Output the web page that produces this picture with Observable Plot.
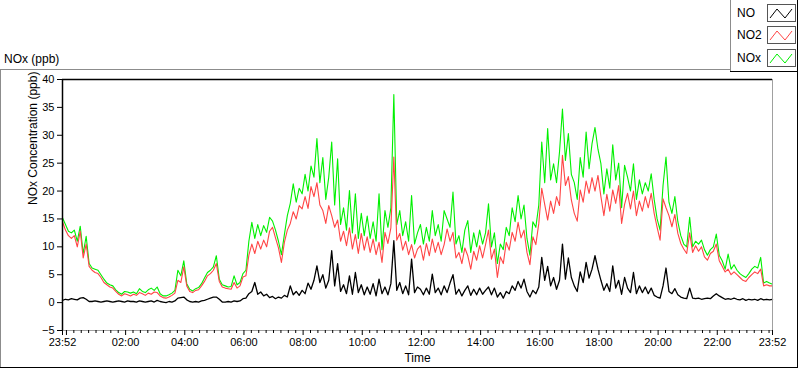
<!DOCTYPE html>
<html><head><meta charset="utf-8">
<script src="https://cdn.jsdelivr.net/npm/d3@7"></script>
<script src="https://cdn.jsdelivr.net/npm/@observablehq/plot@0.6"></script>
<style>
html,body{margin:0;padding:0;background:#fff;}
#wrap{position:relative;width:800px;height:369px;overflow:hidden;font-family:"Liberation Sans",Arial,sans-serif;color:#000;}
#wrap > svg{position:absolute;left:0;top:0;}
.ln{position:absolute;}
.lt{position:absolute;font-size:12px;line-height:14px;}
</style></head><body><div id="wrap"></div>
<script>
// ---- data (6-minute samples from 23:52 to 23:52 next day) ----
const stepMinutes = 6;
const seriesNames = ["NO", "NO2", "NOx"];
const seriesColors = ["#000000", "#ff4545", "#00f000"];
const yTicks = [-5, 0, 5, 10, 15, 20, 25, 30, 35, 40];
const xTickLabels = ["23:52","02:00","04:00","06:00","08:00","10:00","12:00","14:00","16:00","18:00","20:00","22:00","23:52"];

const no = [
0.4,0.6,0.5,0.7,0.6,0.5,0.8,0.9,0.6,0.2,
0.2,0.3,0.2,0.1,0.2,0.3,0.2,0.1,0.2,0.3,
0.2,0.1,0.3,0.2,0.2,0.1,0.3,0.2,0.1,0.2,
0.3,0.1,0.4,0.2,0.1,0.0,0.2,0.1,0.3,0.8,
0.9,1.0,0.5,0.2,0.1,0.2,0.1,0.3,0.4,0.6,
0.8,1.0,1.0,0.6,0.1,0.1,0.2,0.1,0.3,0.2,
0.3,
0.7,0.8,1.6,2.0,3.6,1.5,1.9,1.2,1.5,0.9,
1.1,0.7,1.0,0.8,1.3,1.0,3.0,1.4,2.0,1.3,
2.2,1.6,3.5,2.4,4.0,6.6,3.6,5.0,2.6,4.0,
9.3,3.0,7.0,2.0,3.2,1.6,4.8,1.5,5.4,1.8,
3.2,1.4,2.8,1.5,3.4,1.2,4.2,1.6,2.8,1.4,
3.4,11.1,2.2,3.6,1.6,3.0,1.4,7.8,1.8,2.8,
2.4,1.4,2.6,1.5,5.1,1.8,2.6,1.4,3.0,1.8,
3.5,5.0,1.5,2.4,1.2,2.2,3.0,1.3,2.4,1.4,
2.6,1.5,2.2,2.8,1.4,2.6,1.0,1.8,0.8,2.0,
1.6,3.0,2.2,3.8,2.6,4.2,2.0,1.0,2.2,1.6,
2.8,8.1,4.0,6.5,3.0,4.5,2.4,4.0,10.5,4.2,
8.0,4.5,3.0,2.0,5.5,3.6,7.2,4.4,6.0,8.4,
6.0,
4.0,2.2,3.4,2.0,6.6,2.6,4.0,1.5,4.5,2.6,
1.8,5.4,1.6,3.0,1.8,2.8,1.6,2.6,1.3,1.0,
0.8,3.0,6.2,2.0,1.6,2.5,1.4,1.0,0.8,0.7,
2.6,0.8,0.7,0.8,0.6,0.7,0.8,0.7,1.2,1.6,
1.2,0.9,0.6,0.7,0.6,0.8,0.6,0.5,0.7,0.4,
0.6,0.5,0.6,0.4,0.7,0.5,0.6,0.5,0.6
];

const no2 = [
14.5,13.0,12.0,11.5,12.0,10.0,12.8,8.0,10.5,6.5,
5.8,5.4,5.2,4.5,3.6,3.2,2.8,2.6,2.0,1.5,
1.2,1.6,1.4,1.2,1.5,1.3,1.8,1.6,1.3,1.7,
1.5,1.9,1.8,1.2,0.9,0.8,1.0,1.3,1.7,4.0,
3.6,6.4,3.0,2.0,1.8,2.2,2.3,3.0,3.8,4.8,
5.2,5.8,7.0,3.8,2.8,2.6,2.5,2.4,3.6,2.6,
3.0,
4.6,4.8,8.5,10.5,8.8,11.0,9.6,11.2,10.0,12.8,
13.5,11.6,9.8,7.2,10.8,13.0,14.2,16.3,15.0,17.4,
16.8,19.0,16.9,20.8,19.0,21.5,17.5,16.5,14.2,17.4,
15.6,13.5,14.8,11.0,12.8,10.2,13.4,9.6,12.2,8.8,
12.4,9.4,11.8,9.0,11.4,8.6,10.8,7.2,12.6,10.6,
13.4,26.1,11.2,12.4,9.4,11.0,8.6,10.4,8.0,9.6,
10.2,7.6,10.6,8.4,11.4,9.0,10.8,8.6,10.4,13.2,
11.0,12.6,8.0,9.0,7.0,9.8,8.4,6.0,9.2,7.6,
10.2,8.0,10.4,13.0,7.8,9.6,4.5,8.2,7.0,10.8,
9.4,12.6,11.0,14.4,11.6,13.0,9.0,6.8,11.8,10.4,
14.2,20.5,17.6,14.8,18.2,16.0,19.0,17.4,26.4,21.0,
22.6,18.4,16.0,14.6,20.2,18.0,21.8,19.6,22.4,20.0,
22.8,
19.0,15.6,19.4,16.4,20.2,17.8,21.0,14.2,17.6,19.6,
16.8,20.0,15.6,18.2,16.4,19.0,17.0,19.6,16.0,13.5,
11.2,18.6,17.0,15.6,13.6,15.8,12.4,10.6,9.6,8.8,
12.5,9.0,10.2,9.2,10.0,8.2,7.6,8.8,9.2,10.5,
7.5,6.5,5.5,6.0,5.0,5.5,5.0,4.5,4.0,3.8,
4.5,5.0,5.5,5.2,6.0,3.0,3.2,3.0,3.0
];

const nox = [
15.2,14.0,12.8,12.5,13.0,11.0,13.7,8.8,11.9,7.0,
6.2,6.0,5.8,5.0,4.2,3.5,3.2,3.0,2.3,1.8,
1.5,2.0,1.9,1.7,1.9,1.6,2.5,2.0,1.8,2.3,
2.6,2.2,2.8,1.6,1.2,1.2,1.4,1.7,2.2,5.8,
4.8,7.5,3.4,2.4,2.1,2.5,2.7,3.4,4.4,5.4,
5.8,6.4,8.4,4.2,3.2,3.0,2.8,2.9,4.8,3.2,
3.6,
5.2,5.8,11.0,14.4,11.5,14.0,12.0,13.8,12.6,15.3,
14.6,13.0,11.0,8.6,12.2,15.6,17.8,21.3,18.0,20.5,
19.5,23.0,20.0,24.5,22.5,29.4,21.5,26.0,18.5,22.5,
28.8,17.5,25.8,14.0,17.0,13.0,20.1,12.5,19.5,11.5,
16.0,12.0,15.5,11.5,14.5,11.0,19.5,9.5,16.5,13.5,
17.0,37.3,14.0,16.5,12.0,14.5,11.0,19.2,10.5,12.5,
14.0,10.5,13.5,11.0,16.5,12.0,14.0,11.0,16.5,15.0,
13.5,19.8,10.5,12.0,9.0,13.0,14.7,9.0,12.5,10.0,
13.0,10.5,12.5,17.7,10.0,12.5,7.0,10.5,9.5,13.5,
12.0,17.0,14.5,19.2,15.0,17.5,11.5,8.5,14.5,13.5,
17.5,28.8,21.5,31.2,22.0,24.9,21.5,27.0,34.7,25.5,
30.3,23.0,21.5,18.5,26.0,22.5,30.6,24.0,28.5,31.4,
27.5,
24.9,19.5,24.0,20.5,28.3,22.0,25.0,17.0,24.6,22.5,
20.0,24.9,18.5,22.0,19.5,21.5,20.0,23.1,18.5,15.0,
13.0,21.0,26.1,18.0,16.0,19.0,14.5,12.0,10.5,10.0,
15.3,10.0,11.0,10.5,11.2,9.5,8.5,9.5,10.0,12.3,
8.5,7.5,6.0,8.7,6.0,6.8,5.8,5.2,4.8,4.5,
5.2,6.0,6.5,6.2,8.1,3.5,3.8,3.5,3.3
];

// ---- build table ----
const start = Date.UTC(2020, 0, 1, 23, 52);
const end = start + 24 * 60 * 60000;
const rows = no.map((v, i) => ({
  time: new Date(start + i * stepMinutes * 60000),
  no: v, no2: no2[i], nox: nox[i]
}));

// ticks: majors every 2 h (labelled), minors every 15 min
const fmt = d3.utcFormat("%H:%M");
const majorTicks = [new Date(start)]
  .concat(d3.utcHour.every(2).range(new Date(start), new Date(end)))
  .concat([new Date(end)]);
const labelled = new Set(xTickLabels);
const tickFormat = (d) => {
  const s = fmt(d);
  return (s === "00:00") ? "" : (labelled.has(s) ? s : "");
};
const majorSet = new Set(majorTicks.map(d => +d));
const minorTicks = d3.utcMinute.every(15).range(new Date(start), new Date(end)).filter(d => !majorSet.has(+d));

const chart = Plot.plot({
  width: 800, height: 369,
  marginLeft: 62, marginRight: 28, marginTop: 79, marginBottom: 39,
  style: {fontFamily: "Liberation Sans, Arial, sans-serif", fontSize: "11px", color: "#000", background: "transparent", overflow: "visible"},
  x: {type: "utc", domain: [new Date(start), new Date(end)], label: null},
  y: {domain: [-5, 40], label: null},
  marks: [
    Plot.line(rows, {x: "time", y: "nox", stroke: seriesColors[2], strokeWidth: 1.1}),
    Plot.line(rows, {x: "time", y: "no2", stroke: seriesColors[1], strokeWidth: 1.1}),
    Plot.line(rows, {x: "time", y: "no", stroke: seriesColors[0], strokeWidth: 1.3}),
    Plot.ruleY([40], {stroke: "#000", strokeWidth: 1.5}),
    Plot.ruleX([new Date(start)], {stroke: "#000", strokeWidth: 1.5}),
    Plot.ruleY([-5], {stroke: "#a0a0a0"}),
    Plot.ruleX([new Date(end)], {stroke: "#a0a0a0"}),
    Plot.axisY(yTicks, {tickSize: 5, tickPadding: 3, fontSize: 11, label: null}),
    Plot.axisX(majorTicks, {tickSize: 5, tickPadding: 3, fontSize: 11, tickFormat, label: null}),
    Plot.axisX(minorTicks, {tickSize: 3, tickFormat: () => "", label: null}),
    Plot.text(["NOx Concentration (ppb)"], {frameAnchor: "left", dx: -29, rotate: -90, fontSize: 12}),
    Plot.text(["Time"], {frameAnchor: "bottom", dy: 31, fontSize: 12})
  ]
});

const wrap = document.getElementById("wrap");
wrap.appendChild(chart);

function line(l, t, w, h, c) {
  const d = document.createElement("div");
  d.className = "ln";
  Object.assign(d.style, {left: l + "px", top: t + "px", width: w + "px", height: h + "px", background: c});
  wrap.appendChild(d);
}
// outer graph frame
line(0, 69, 731, 1, "#8c8c8c");
line(0, 69, 1, 299, "#8c8c8c");
line(0, 367, 798, 1, "#000");
line(797, 0, 1, 368, "#000");
// legend box
line(730, 0, 1, 72, "#8c8c8c");
line(730, 71, 68, 1, "#000");

// title
const title = document.createElement("div");
title.className = "lt";
title.style.left = "4px"; title.style.top = "52px";
title.textContent = "NOx (ppb)";
wrap.appendChild(title);

// legend entries
const legendY = [13, 35, 58];
seriesNames.forEach((name, i) => {
  const t = document.createElement("div");
  t.className = "lt";
  t.style.left = "737px"; t.style.top = (legendY[i] - 7) + "px";
  t.textContent = name;
  wrap.appendChild(t);
  const ns = "http://www.w3.org/2000/svg";
  const s = document.createElementNS(ns, "svg");
  s.setAttribute("width", 29); s.setAttribute("height", 18);
  s.style.position = "absolute"; s.style.left = "767px"; s.style.top = (legendY[i] - 9) + "px";
  const r = document.createElementNS(ns, "rect");
  r.setAttribute("x", 0.5); r.setAttribute("y", 0.5); r.setAttribute("width", 28); r.setAttribute("height", 17);
  r.setAttribute("fill", "#fff"); r.setAttribute("stroke", "#555");
  s.appendChild(r);
  const p = document.createElementNS(ns, "polyline");
  p.setAttribute("points", "3,14 10,5 18,14 25,5");
  p.setAttribute("fill", "none"); p.setAttribute("stroke", seriesColors[i]); p.setAttribute("stroke-width", 1);
  s.appendChild(p);
  wrap.appendChild(s);
});
</script>
</body></html>
